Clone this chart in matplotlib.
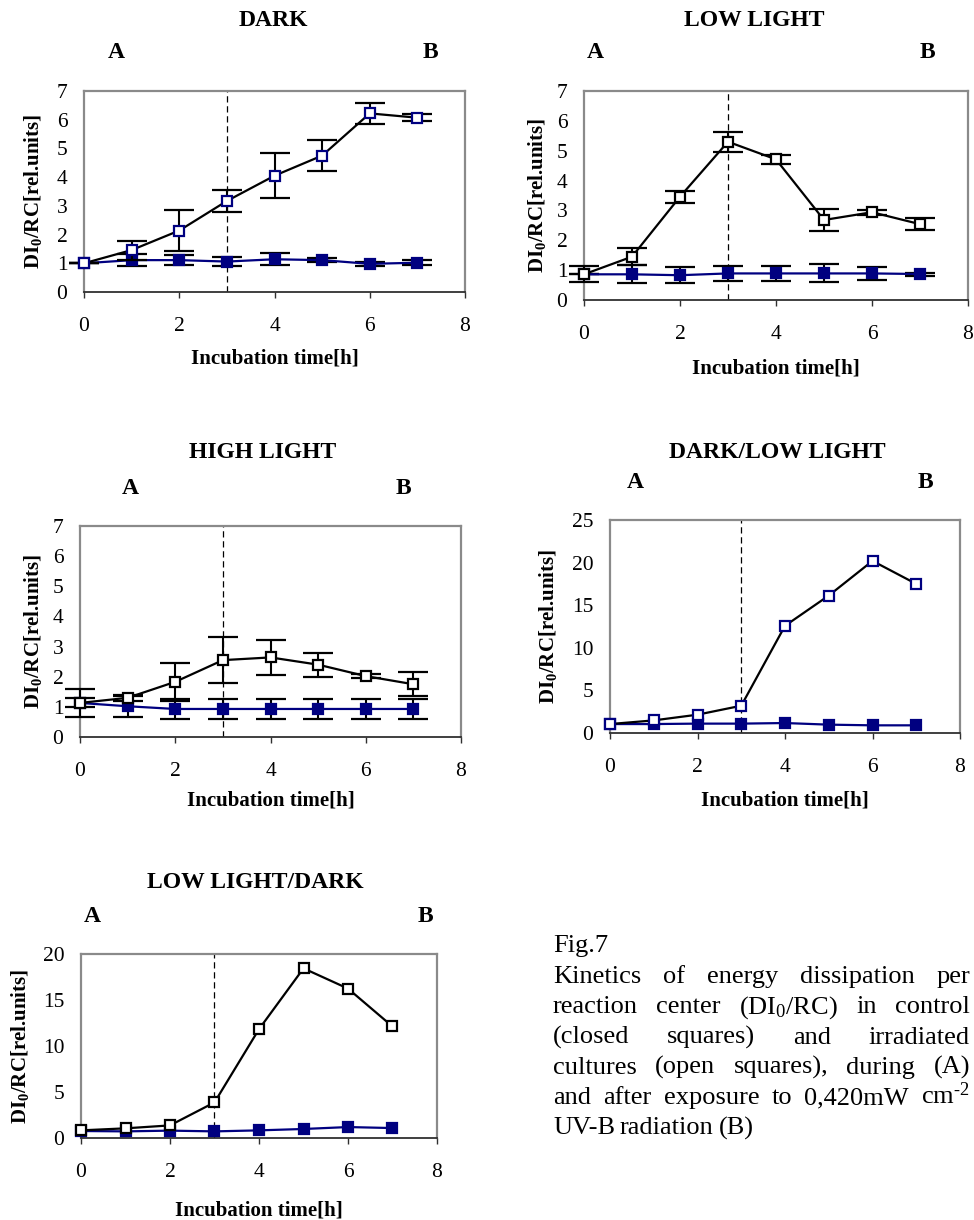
import matplotlib
matplotlib.use("Agg")
import matplotlib.pyplot as plt
import numpy as np

plt.rcParams['font.family'] = ['Liberation Serif', 'DejaVu Serif']
plt.rcParams['mathtext.fontset'] = 'custom'
plt.rcParams['mathtext.rm'] = 'Liberation Serif'
plt.rcParams['mathtext.it'] = 'Liberation Serif:italic'
plt.rcParams['mathtext.bf'] = 'Liberation Serif:bold'

hours = [0, 1, 2, 3, 4, 5, 6, 7]

# DARK
dark_ctrl = [1.00, 1.11, 1.11, 1.06, 1.14, 1.11, 0.98, 1.02]
dark_ctrl_err = [0.00, 0.20, 0.18, 0.15, 0.21, 0.08, 0.08, 0.08]
dark_uv = [1.00, 1.46, 2.14, 3.17, 4.05, 4.75, 6.22, 6.07]
dark_uv_err = [0.00, 0.33, 0.70, 0.38, 0.79, 0.55, 0.37, 0.12]

# LOW LIGHT
low_ctrl = [0.86, 0.86, 0.83, 0.89, 0.89, 0.89, 0.89, 0.87]
low_ctrl_err = [0.00, 0.30, 0.26, 0.25, 0.24, 0.30, 0.22, 0.05]
low_uv = [0.86, 1.45, 3.46, 5.30, 4.71, 2.68, 2.94, 2.54]
low_uv_err = [0.27, 0.28, 0.20, 0.33, 0.14, 0.38, 0.08, 0.19]

# HIGH LIGHT
high_ctrl = [1.13, 1.02, 0.93, 0.93, 0.93, 0.93, 0.93, 0.93]
high_ctrl_err = [0.45, 0.35, 0.32, 0.32, 0.32, 0.32, 0.32, 0.32]
high_uv = [1.13, 1.30, 1.83, 2.55, 2.64, 2.40, 2.02, 1.75]
high_uv_err = [0.15, 0.10, 0.62, 0.77, 0.57, 0.40, 0.07, 0.39]

# DARK/LOW LIGHT
dl_ctrl = [1.05, 1.05, 1.10, 1.10, 1.17, 0.98, 0.90, 0.90]
dl_uv = [1.05, 1.48, 2.15, 3.20, 12.58, 16.13, 20.20, 17.50]

# LOW LIGHT/DARK
ld_ctrl = [0.76, 0.72, 0.80, 0.72, 0.83, 0.98, 1.19, 1.08]
ld_uv = [0.83, 1.05, 1.37, 3.87, 11.83, 18.44, 16.24, 12.12]

W, H = 974, 1220
NAVY = '#000080'

fig = plt.figure(figsize=(W / 100, H / 100), dpi=100)


def fx(x):
    return x / W


def fy(y):
    return 1 - y / H


def panel(rect, title, ctrl, ctrl_err, uv, uv_err, ymax, ystep, uv_edge,
          title_xy, a_xy, b_xy, ylab_x, xlab_y):
    x0, y0, x1, y1 = rect
    ax = fig.add_axes([fx(x0), fy(y1), (x1 - x0) / W, (y1 - y0) / H])
    ax.set_xlim(0, 8)
    ax.set_ylim(0, ymax)
    ax.set_xticks(np.arange(0, 9, 2))
    ax.set_yticks(np.arange(0, ymax + 0.1, ystep))
    for s in ('top', 'left', 'right'):
        ax.spines[s].set_color('#8a8a8a')
        ax.spines[s].set_linewidth(1.6)
    ax.spines['bottom'].set_color('#303030')
    ax.spines['bottom'].set_linewidth(1.3)
    ax.tick_params(axis='x', direction='out', length=4, width=1.0,
                   color='#303030', pad=14, labelsize=15.5)
    ax.tick_params(axis='y', length=0, pad=12, labelsize=15.5)

    ax.axvline(3, color='black', lw=0.9, dashes=(5, 3), zorder=1)

    kw = dict(capsize=11, elinewidth=1.5, capthick=1.5, ecolor='black',
              markersize=6.5, markeredgewidth=1.6, lw=1.6, clip_on=False)
    if ctrl_err is None:
        ax.plot(hours, ctrl, marker='s', color=NAVY, markersize=6.5,
                markeredgewidth=1.6, lw=1.6, clip_on=False, zorder=3)
        ax.plot(hours, uv, marker='s', color='black', mfc='white',
                mec=uv_edge, markersize=6.5, markeredgewidth=1.6, lw=1.6,
                clip_on=False, zorder=4)
    else:
        ax.errorbar(hours, ctrl, yerr=ctrl_err, marker='s', color=NAVY,
                    mfc=NAVY, mec=NAVY, zorder=3, **kw)
        ax.errorbar(hours, uv, yerr=uv_err, marker='s', color='black',
                    mfc='white', mec=uv_edge, zorder=4, **kw)

    bold = dict(fontweight='bold', ha='center', va='center')
    fig.text(fx(title_xy[0]), fy(title_xy[1]), title, fontsize=17, **bold)
    fig.text(fx(a_xy[0]), fy(a_xy[1]), 'A', fontsize=17, **bold)
    fig.text(fx(b_xy[0]), fy(b_xy[1]), 'B', fontsize=17, **bold)
    fig.text(fx(ylab_x), fy((y0 + y1) / 2), r'DI$_\mathbf{0}$/RC[rel.units]',
             rotation=90, fontsize=15, **bold)
    fig.text(fx((x0 + x1) / 2), fy(xlab_y), 'Incubation time[h]',
             fontsize=15, **bold)
    return ax


panel((84, 91, 465, 292), 'DARK', dark_ctrl, dark_ctrl_err, dark_uv,
      dark_uv_err, 7, 1, NAVY, (273, 20), (116, 52), (430, 52), 33, 358)
panel((584, 91, 968, 300), 'LOW LIGHT', low_ctrl, low_ctrl_err, low_uv,
      low_uv_err, 7, 1, 'black', (754, 20), (595, 52), (927, 52), 537, 368)
panel((80, 526, 461, 737), 'HIGH LIGHT', high_ctrl, high_ctrl_err, high_uv,
      high_uv_err, 7, 1, 'black', (263, 453), (130, 488), (403, 488), 33, 800)
panel((610, 520, 960, 733), 'DARK/LOW LIGHT', dl_ctrl, None, dl_uv, None,
      25, 5, NAVY, (777, 453), (635, 483), (925, 483), 548, 801)
panel((81, 954, 437, 1138), 'LOW LIGHT/DARK', ld_ctrl, None, ld_uv, None,
      20, 5, 'black', (255, 882), (92, 917), (425, 917), 20, 1210)

# caption, justified like the printed text block
caption = [
    ['Kinetics', 'of', 'energy', 'dissipation', 'per'],
    ['reaction', 'center', r'(DI$_0$/RC)', 'in', 'control'],
    ['(closed', 'squares)', 'and', 'irradiated'],
    ['cultures', '(open', 'squares),', 'during', '(A)'],
    ['and', 'after', 'exposure', 'to', '0,420mW', r'cm$^{\text{-}2}$'],
    ['UV-B', 'radiation', '(B)'],
]
left, right = 553, 970
fig.text(fx(left), fy(952), 'Fig.7', fontsize=19, va='baseline')
renderer = fig.canvas.get_renderer()
for i, words in enumerate(caption):
    base = 983 + 30.3 * i
    texts = [fig.text(0, fy(base), w, fontsize=19, va='baseline')
             for w in words]
    widths = [t.get_window_extent(renderer).width for t in texts]
    if i == len(caption) - 1:
        gap = 5
    else:
        gap = (right - left - sum(widths)) / (len(words) - 1)
    x = left
    for t, w in zip(texts, widths):
        t.set_x(fx(x))
        x += w + gap

fig.savefig('out.png', dpi=100)
